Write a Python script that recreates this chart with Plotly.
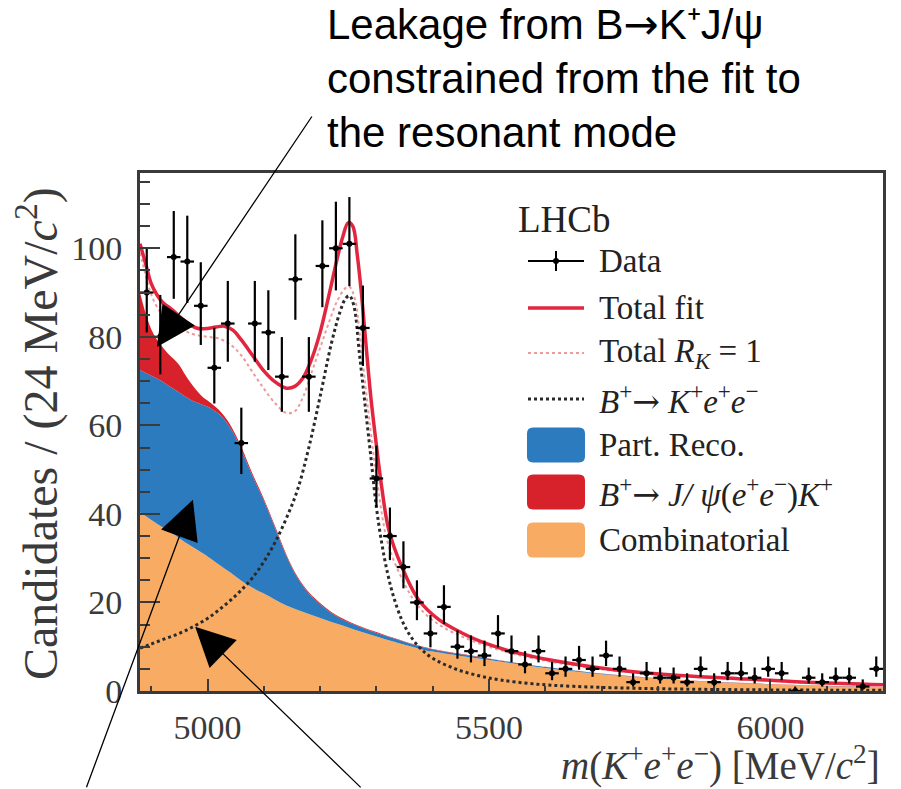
import numpy as np
import plotly.graph_objects as go

# ---------------- binned data: m(K+ e+ e-), 24 MeV bins from 4880 to 6200 ----------------
BIN_LO, BIN_HI, BIN_W = 4880, 6200, 24
bin_centers = np.arange(BIN_LO + BIN_W / 2, BIN_HI, BIN_W)

counts = [90, 80, 98, 97, 87, 73, 83, 56, 83, 81,
          71, 93, 71, 96, 100, 101, 82, 48, 35, 28,
          20, 13, 19, 10, 9, 8, 13, 9, 6, 9,
          4, 5, 7, 5, 8, 5, 2, 4, 3, 3,
          2, 5, 2, 4, 4, 3, 5, 4, 0, 3,
          2, 3, 3, 1, 5]

# ---------------- fit components (candidates per bin) ----------------
comp_mass = [4880, 4890, 4900, 4910, 4920, 4930, 4940, 4950, 4960, 4970,
             4980, 4990, 5000, 5020, 5040, 5060, 5080, 5100, 5120, 5140,
             5160, 5180, 5200, 5220, 5240, 5260, 5280, 5300, 5320, 5340,
             5360, 5380, 5400, 5450, 5500, 5550, 5600, 5700, 5800, 5900,
             6000, 6100, 6200]

combinatorial = [40.3, 39.5, 38.6, 37.8, 37.0, 36.2, 35.4, 34.5, 33.6, 32.8,
                 32.0, 31.2, 30.4, 28.6, 26.8, 24.9, 23.3, 22.0, 20.6, 19.3,
                 18.3, 17.4, 16.5, 15.6, 14.8, 13.9, 13.1, 12.3, 11.5, 10.8,
                 10.1, 9.4, 8.9, 7.9, 7.0, 6.1, 5.2, 3.8, 2.8, 2.0,
                 1.5, 1.1, 0.9]

part_reco = [32.2, 32.3, 32.6, 32.8, 32.9, 32.8, 32.8, 32.9, 32.9, 33.0,
             33.2, 33.5, 33.8, 34.0, 32.7, 29.6, 25.2, 21.0, 16.2, 11.2,
             7.2, 4.6, 3.1, 2.0, 1.3, 1.1, 0.9, 0.8, 0.8, 0.7,
             0.6, 0.6, 0.5, 0.4, 0.3, 0.2, 0.2, 0.1, 0.05, 0.05,
             0.05, 0.05, 0.02]

jpsi_leak = [17.5, 13.5, 10.5, 8.8, 7.8, 7.2, 6.8, 6.2, 5.0, 3.8,
             2.8, 1.9, 1.4, 0.9, 0.7, 0.6, 0.5, 0.45, 0.4, 0.35,
             0.3, 0.3, 0.3, 0.25, 0.25, 0.2, 0.2, 0.2, 0.15, 0.15,
             0.1, 0.1, 0.1, 0.1, 0.05, 0.05, 0.05, 0.03, 0.02, 0.02,
             0.01, 0.01, 0.01]

signal_mass = [4880, 4900, 4920, 4940, 4960, 4980, 5000, 5020, 5040, 5060,
               5080, 5100, 5120, 5140, 5160, 5180, 5200, 5220, 5235, 5245,
               5252, 5260, 5270, 5280, 5290, 5300, 5310, 5320, 5330, 5345,
               5360, 5380, 5400, 5440, 5480, 5520, 5580, 5650, 5750, 5850,
               6000, 6200]
signal = [9.7, 10.6, 11.6, 12.5, 13.6, 14.9, 16.4, 18.3, 20.4, 22.8,
          25.6, 29.2, 33.6, 39.0, 45.5, 55.0, 66.5, 78.5, 85.5, 88.6,
          89.3, 87.0, 76.0, 64.5, 53.0, 41.5, 33.0, 26.5, 21.5, 16.1,
          12.5, 9.4, 7.4, 5.0, 3.5, 2.5, 1.6, 1.05, 0.65, 0.42,
          0.25, 0.15]

total_mass = [4880, 4890, 4900, 4910, 4920, 4930, 4940, 4950, 4960, 4970,
              4980, 4990, 5000, 5015, 5030, 5045, 5060, 5080, 5100, 5120,
              5140, 5155, 5170, 5185, 5200, 5215, 5230, 5240, 5250, 5258,
              5266, 5274, 5282, 5290, 5300, 5310, 5322, 5345, 5375, 5411,
              5452, 5485, 5530, 5574, 5604, 5722, 5841, 5960, 6078, 6200]
total_fit = [101.0, 96.5, 92.0, 89.5, 87.8, 86.8, 85.8, 84.6, 83.5, 82.6,
             82.0, 81.8, 81.9, 82.2, 82.4, 81.5, 79.3, 75.8, 72.3, 69.8,
             68.4, 68.8, 70.8, 75.0, 81.0, 89.0, 97.5, 102.5, 105.8, 105.0,
             98.5, 89.0, 77.5, 66.5, 55.5, 45.5, 36.4, 28.1, 20.6, 16.1,
             13.1, 11.2, 9.3, 7.9, 7.1, 4.8, 3.5, 2.7, 1.9, 1.4]

rk1_mass = [4880, 4890, 4900, 4910, 4920, 4940, 4960, 4980, 5000, 5020,
            5040, 5060, 5080, 5100, 5120, 5140, 5155, 5170, 5185, 5200,
            5215, 5230, 5245, 5252, 5262, 5270, 5280, 5290, 5300, 5320,
            5345, 5375, 5411, 5452, 5500, 5574, 5700, 5841, 5960, 6078,
            6200]
total_rk1 = [99.0, 94.0, 89.5, 86.8, 85.0, 82.8, 81.3, 80.4, 80.0, 79.6,
             78.3, 75.8, 72.0, 68.3, 65.0, 62.8, 63.2, 66.5, 72.0, 77.5,
             83.0, 88.0, 91.0, 91.3, 88.5, 81.0, 69.5, 58.5, 48.5, 33.5,
             25.5, 19.0, 15.0, 12.3, 10.0, 7.5, 4.9, 3.4, 2.6, 1.8,
             1.35]

# ---------------- styling ----------------
C_ORANGE = "#f8ab62"
C_BLUE = "#2c7bbf"
C_RED_FILL = "#d7222b"
C_FIT = "#e3263f"
C_RK1 = "#ee9a9a"
C_SIG = "#2a2a2a"
C_AXIS = "#3a3a3a"
SERIF = "Liberation Serif"
SANS = "Liberation Sans"

W, H = 901, 789
PL, PR, PT, PB = 140, 883, 173, 691
Y_MAX = 117.0


def fx(x):
    return (x - PL) / (PR - PL)


def fy(y):
    return (PB - y) / (PB - PT)


fig = go.Figure()

# stacked background components
fig.add_trace(go.Scatter(x=comp_mass, y=combinatorial, stackgroup="bkg",
                         mode="lines", line=dict(width=0, color=C_ORANGE, shape="spline"),
                         fillcolor=C_ORANGE, showlegend=False, hoverinfo="skip"))
fig.add_trace(go.Scatter(x=comp_mass, y=part_reco, stackgroup="bkg",
                         mode="lines", line=dict(width=0, color=C_BLUE, shape="spline"),
                         fillcolor=C_BLUE, showlegend=False, hoverinfo="skip"))
fig.add_trace(go.Scatter(x=comp_mass, y=jpsi_leak, stackgroup="bkg",
                         mode="lines", line=dict(width=0, color=C_RED_FILL, shape="spline"),
                         fillcolor=C_RED_FILL, showlegend=False, hoverinfo="skip"))

# signal, R_K = 1 total and nominal total fit
fig.add_trace(go.Scatter(x=signal_mass, y=signal, mode="lines",
                         line=dict(color=C_SIG, width=3, dash="dot", shape="spline"),
                         showlegend=False, hoverinfo="skip"))
fig.add_trace(go.Scatter(x=rk1_mass, y=total_rk1, mode="lines",
                         line=dict(color=C_RK1, width=2, dash="dot", shape="spline"),
                         showlegend=False, hoverinfo="skip"))
fig.add_trace(go.Scatter(x=total_mass, y=total_fit, mode="lines",
                         line=dict(color=C_FIT, width=3.5, shape="spline"),
                         showlegend=False, hoverinfo="skip"))

# data with Poisson-like error bars and bin-width horizontal bars
n = np.array(counts, dtype=float)
err_up = 0.5 + np.sqrt(n + 0.25)
err_dn = np.sqrt(n + 0.25) - 0.5
fig.add_trace(go.Scatter(
    x=bin_centers, y=counts, mode="markers",
    marker=dict(color="black", size=6),
    error_y=dict(type="data", symmetric=False, array=err_up, arrayminus=err_dn,
                 color="black", thickness=2.2, width=0),
    error_x=dict(type="constant", value=BIN_W / 2, color="black", thickness=2.2, width=0),
    cliponaxis=False, showlegend=False, hoverinfo="skip"))

shapes = []
annotations = []

# ---------------- legend (drawn in paper space) ----------------
LEG_X0, LEG_X1, LEG_TX = 528, 584, 597
rows = {"data": 261, "fit": 308, "rk1": 353, "sig": 399, "pr": 445, "jpsi": 492, "comb": 540}


def hline(y, color, width, dash=None):
    d = dict(type="line", xref="paper", yref="paper",
             x0=fx(LEG_X0), x1=fx(LEG_X1), y0=fy(y), y1=fy(y),
             line=dict(color=color, width=width))
    if dash:
        d["line"]["dash"] = dash
    return d


def rounded_box(y, color, h=35, r=6):
    x0, x1 = LEG_X0 - 1, LEG_X1 + 1
    y0, y1 = y - h / 2, y + h / 2
    pts = [("M", x0 + r, y0), ("L", x1 - r, y0), ("Q", x1, y0, x1, y0 + r),
           ("L", x1, y1 - r), ("Q", x1, y1, x1 - r, y1), ("L", x0 + r, y1),
           ("Q", x0, y1, x0, y1 - r), ("L", x0, y0 + r), ("Q", x0, y0, x0 + r, y0)]
    path = ""
    for p in pts:
        if p[0] == "Q":
            path += "Q{:.5f},{:.5f} {:.5f},{:.5f} ".format(fx(p[1]), fy(p[2]), fx(p[3]), fy(p[4]))
        else:
            path += "{}{:.5f},{:.5f} ".format(p[0], fx(p[1]), fy(p[2]))
    path += "Z"
    return dict(type="path", xref="paper", yref="paper", path=path,
                fillcolor=color, line=dict(width=0))


shapes.append(hline(rows["data"], "black", 2))
shapes.append(dict(type="line", xref="paper", yref="paper",
                   x0=fx(556), x1=fx(556), y0=fy(rows["data"] - 10), y1=fy(rows["data"] + 10),
                   line=dict(color="black", width=2)))
shapes.append(dict(type="circle", xref="paper", yref="paper",
                   x0=fx(553), x1=fx(559), y0=fy(rows["data"] - 3), y1=fy(rows["data"] + 3),
                   fillcolor="black", line=dict(width=0)))
shapes.append(hline(rows["fit"], C_FIT, 3.5))
shapes.append(hline(rows["rk1"], C_RK1, 2, "dot"))
shapes.append(hline(rows["sig"], C_SIG, 3, "dot"))
shapes.append(rounded_box(rows["pr"], C_BLUE))
shapes.append(rounded_box(rows["jpsi"], C_RED_FILL))
shapes.append(rounded_box(rows["comb"], C_ORANGE))

LEG_FONT = dict(family=SERIF, size=33, color="#222")
ARR = "<span style='font-family:DejaVu Serif'>\u2192</span>"
legend_text = {
    "data": "Data",
    "fit": "Total fit",
    "rk1": "Total <i>R<sub>K</sub></i> = 1",
    "sig": "<i>B</i><sup>+</sup>" + ARR + " <i>K</i><sup>+</sup><i>e</i><sup>+</sup><i>e</i><sup>\u2212</sup>",
    "pr": "Part. Reco.",
    "jpsi": "<i>B</i><sup>+</sup>" + ARR + " <i>J/ \u03c8</i>(<i>e</i><sup>+</sup><i>e</i><sup>\u2212</sup>)<i>K</i><sup>+</sup>",
    "comb": "Combinatorial",
}
for key, txt in legend_text.items():
    annotations.append(dict(text=txt, xref="paper", yref="paper", x=fx(LEG_TX), y=fy(rows[key]),
                            xanchor="left", yanchor="middle", showarrow=False, font=LEG_FONT))
annotations.append(dict(text="LHCb", xref="paper", yref="paper", x=fx(516), y=fy(219),
                        xanchor="left", yanchor="middle", showarrow=False,
                        font=dict(family=SERIF, size=37, color="#222")))

# ---------------- axis titles ----------------
annotations.append(dict(text="Candidates / (24 MeV/<i>c</i><sup>2</sup>)", xref="paper", yref="paper",
                        x=fx(37), y=fy(434), textangle=-90, xanchor="center", yanchor="middle",
                        showarrow=False, font=dict(family=SERIF, size=48, color=C_AXIS)))
annotations.append(dict(text="<i>m</i>(<i>K</i><sup>+</sup><i>e</i><sup>+</sup><i>e</i><sup>\u2212</sup>) [MeV/<i>c</i><sup>2</sup>]",
                        xref="paper", yref="paper", x=fx(882), y=fy(763),
                        xanchor="right", yanchor="middle", showarrow=False,
                        font=dict(family=SERIF, size=39, color=C_AXIS)))

# ---------------- explanatory note and arrows ----------------
NOTE_FONT = dict(family=SANS, size=42, color="black")
note_lines = ["Leakage from B<span style='font-family:DejaVu Sans'>\u2192</span>K\u207aJ/\u03c8",
              "constrained from the fit to",
              "the resonant mode"]
for i, line in enumerate(note_lines):
    annotations.append(dict(text=line, xref="paper", yref="paper", x=fx(325), y=fy(25 + 54 * i),
                            xanchor="left", yanchor="middle", showarrow=False, font=NOTE_FONT))

ARROW = dict(showarrow=True, text="", arrowhead=2, arrowsize=6.0, arrowwidth=1.3,
             arrowcolor="black", xref="x", yref="y", axref="pixel", ayref="pixel")
# leakage component, partially reconstructed background, signal tail
annotations.append(dict(ARROW, x=4910, y=77.7, ax=156, ay=-232))
annotations.append(dict(ARROW, x=4974, y=43.2, ax=-107, ay=289))
annotations.append(dict(ARROW, x=4978, y=14.5, ax=167, ay=162))

AX_FONT = dict(family=SERIF, size=34, color=C_AXIS)
fig.update_layout(
    width=W, height=H,
    margin=dict(l=PL, r=W - PR, t=PT, b=H - PB, pad=0),
    paper_bgcolor="white", plot_bgcolor="white",
    showlegend=False,
    shapes=shapes, annotations=annotations,
    xaxis=dict(range=[BIN_LO, BIN_HI], tickmode="linear", tick0=5000, dtick=500,
               ticks="inside", ticklen=12, tickwidth=2, tickcolor=C_AXIS,
               minor=dict(dtick=100, tick0=5000, ticks="inside", ticklen=5, tickwidth=2, tickcolor=C_AXIS),
               showline=True, linewidth=3, linecolor=C_AXIS, mirror=True,
               showgrid=False, zeroline=False, tickfont=AX_FONT, ticklabelstandoff=4),
    yaxis=dict(range=[0, Y_MAX], tickmode="linear", tick0=0, dtick=20,
               ticks="inside", ticklen=20, tickwidth=2, tickcolor=C_AXIS,
               minor=dict(dtick=5, tick0=0, ticks="inside", ticklen=10, tickwidth=2, tickcolor=C_AXIS),
               showline=True, linewidth=3, linecolor=C_AXIS, mirror=True,
               showgrid=False, zeroline=False, tickfont=AX_FONT, ticklabelstandoff=8),
)

fig.write_html("out.html")
